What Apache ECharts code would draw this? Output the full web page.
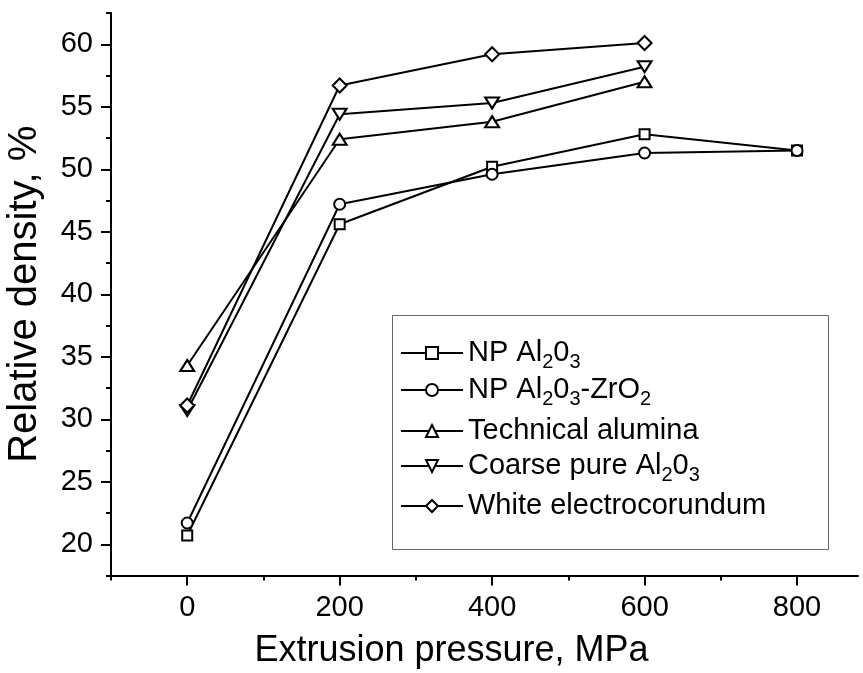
<!DOCTYPE html>
<html>
<head>
<meta charset="utf-8">
<script src="https://cdn.jsdelivr.net/npm/echarts@6/dist/echarts.min.js"></script>
<style>
html,body{margin:0;padding:0;background:#fff;}
#chart{width:863px;height:673px;}
</style>
</head>
<body>
<div id="chart"></div>
<script>
// ---- data ----
var pressures = [0, 200, 400, 600, 800];
var npAl2O3 = [20.7, 45.6, 50.2, 52.8, 51.5];
var npAl2O3ZrO2 = [21.7, 47.2, 49.6, 51.3, 51.5];
var technicalAlumina = [34.3, 52.4, 53.8, 57.0];
var coarsePure = [30.7, 54.4, 55.3, 58.2];
var whiteElectro = [31.1, 56.7, 59.2, 60.1];

var seriesNames = ['NP Al2O3', 'NP Al2O3-ZrO2', 'Technical alumina', 'Coarse pure Al2O3', 'White electrocorundum'];
var legendLabels = {
  'NP Al2O3': 'NP Al{s|2}0{s|3}',
  'NP Al2O3-ZrO2': 'NP Al{s|2}0{s|3}-ZrO{s|2}',
  'Technical alumina': 'Technical alumina',
  'Coarse pure Al2O3': 'Coarse pure Al{s|2}0{s|3}',
  'White electrocorundum': 'White electrocorundum'
};

var xMajorTicks = [0, 200, 400, 600, 800];
var xMinorTicks = [-100, 100, 300, 500, 700];
var yMajorTicks = [20, 25, 30, 35, 40, 45, 50, 55, 60];
var yMinorTicks = [17.5, 22.5, 27.5, 32.5, 37.5, 42.5, 47.5, 52.5, 57.5, 62.5];

var xName = 'Extrusion pressure, MPa';
var yName = 'Relative density, %';

// ---- chart ----
var FONT = 'Liberation Sans, Arial, sans-serif';
var FS = 29;

function pairs(vals) {
  return vals.map(function (v, i) { return [pressures[i], v]; });
}

var seriesValues = [npAl2O3, npAl2O3ZrO2, technicalAlumina, coarsePure, whiteElectro];
var symbols = ['rect', 'circle', 'triangle', 'path://M0,0 L10,0 L5,10 Z', 'diamond'];
var symbolSizes = [10, 11, [14, 11], [14, 11], [14, 14]];

var series = seriesValues.map(function (vals, i) {
  return {
    name: seriesNames[i],
    type: 'line',
    data: pairs(vals),
    symbol: symbols[i],
    symbolSize: symbolSizes[i],
    showAllSymbol: true,
    lineStyle: { color: '#000', width: 2 },
    itemStyle: { color: '#fff', borderColor: '#000', borderWidth: 2 },
    emphasis: { disabled: true },
    z: 2 + i
  };
});

var legendCenters = [353, 390, 431, 466, 506];
var legendHasSub = [true, true, false, true, false];

var legends = seriesNames.map(function (n, i) {
  var h = legendHasSub[i] ? 38 : 30;
  return {
    data: [n],
    left: 400,
    top: legendCenters[i] - h / 2,
    padding: 0,
    itemWidth: 62,
    itemHeight: 15,
    selectedMode: false,
    orient: 'vertical',
    formatter: function (name) { return legendLabels[name]; },
    textStyle: {
      fontFamily: FONT, fontSize: FS, lineHeight: 30, color: '#000',
      rich: {
        s: { fontFamily: FONT, fontSize: 20, lineHeight: 20, padding: [18, 0, 0, 0], color: '#000' }
      }
    }
  };
});

var axisLineStyle = { color: '#000', width: 2 };

var option = {
  animation: false,
  backgroundColor: '#fff',
  textStyle: { fontFamily: FONT },
  grid: { left: 111, top: 13, right: 5, bottom: 97.5, containLabel: false, outerBoundsMode: 'none' },
  graphic: [{
    type: 'rect',
    shape: { x: 392.5, y: 315.5, width: 436, height: 234 },
    style: { fill: 'none', stroke: '#666', lineWidth: 1 },
    z: 1
  }],
  legend: legends,
  xAxis: [{
    type: 'value', min: -100, max: 880, position: 'bottom',
    axisLine: { show: true, onZero: false, lineStyle: axisLineStyle },
    axisTick: { show: true, customValues: xMajorTicks, length: 10, lineStyle: axisLineStyle },
    axisLabel: { customValues: xMajorTicks, margin: 18, fontSize: FS, fontFamily: FONT, color: '#000' },
    splitLine: { show: false },
    name: xName, nameLocation: 'middle', nameGap: 58,
    nameTextStyle: { fontSize: 36, lineHeight: 36, fontFamily: FONT, color: '#000', padding: [0, 66, 0, 0] }
  }, {
    type: 'value', min: -100, max: 880, position: 'bottom',
    axisLine: { show: false, onZero: false },
    axisTick: { show: true, customValues: xMinorTicks, length: 5, lineStyle: axisLineStyle },
    axisLabel: { show: false },
    splitLine: { show: false }
  }],
  yAxis: [{
    type: 'value', min: 17.5, max: 62.5, position: 'left',
    axisLine: { show: true, onZero: false, lineStyle: axisLineStyle },
    axisTick: { show: true, customValues: yMajorTicks, length: 10, lineStyle: axisLineStyle },
    axisLabel: { customValues: yMajorTicks, margin: 18, fontSize: FS, fontFamily: FONT, color: '#000' },
    splitLine: { show: false },
    name: yName, nameLocation: 'middle', nameGap: 66,
    nameTextStyle: { fontSize: 40, lineHeight: 40, fontFamily: FONT, color: '#000' }
  }, {
    type: 'value', min: 17.5, max: 62.5, position: 'left',
    axisLine: { show: false, onZero: false },
    axisTick: { show: true, customValues: yMinorTicks, length: 5, lineStyle: axisLineStyle },
    axisLabel: { show: false },
    splitLine: { show: false }
  }],
  series: series
};

var chart = echarts.init(document.getElementById('chart'), null, { renderer: 'canvas' });
chart.setOption(option);
</script>
</body>
</html>
